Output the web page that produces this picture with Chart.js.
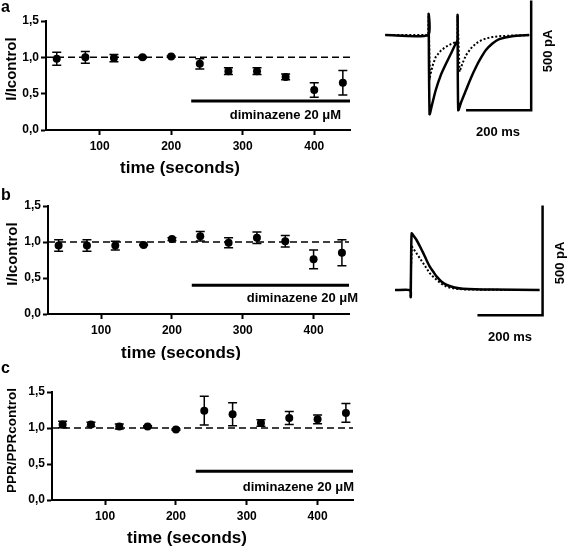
<!DOCTYPE html>
<html>
<head>
<meta charset="utf-8">
<script src="https://cdn.jsdelivr.net/npm/chart.js@4.4.1/dist/chart.umd.min.js"></script>
<style>
  body { margin: 0; background: #fff; width: 567px; height: 547px; position: relative; overflow: hidden; }
  canvas { position: absolute; }
</style>
</head>
<body>
<canvas id="panelA" width="370" height="180" style="left:0;top:0"></canvas>
<canvas id="panelB" width="370" height="180" style="left:0;top:180px"></canvas>
<canvas id="panelC" width="370" height="187" style="left:0;top:360px"></canvas>
<canvas id="traceA" width="197" height="180" style="left:370px;top:0"></canvas>
<canvas id="traceB" width="197" height="155" style="left:370px;top:195px"></canvas>
<script>
// time points (s)
const timeSec = [40, 80, 120, 160, 200, 240, 280, 320, 360, 400, 440];
// panel a: I/Icontrol
const currentA = [0.98, 1.00, 0.99, 1.00, 1.01, 0.91, 0.81, 0.81, 0.73, 0.55, 0.65];
const currentAErr = [0.09, 0.08, 0.05, 0.01, 0.01, 0.07, 0.045, 0.045, 0.04, 0.10, 0.17];
// panel b: I/Icontrol
const currentB = [0.95, 0.95, 0.95, 0.96, 1.04, 1.08, 0.99, 1.06, 1.01, 0.76, 0.85];
const currentBErr = [0.08, 0.08, 0.06, 0.01, 0.02, 0.065, 0.07, 0.08, 0.08, 0.13, 0.18];
// panel c: PPR/PPRcontrol
const pprC = [1.05, 1.05, 1.02, 1.02, 0.98, 1.24, 1.19, 1.07, 1.14, 1.12, 1.21];
const pprCErr = [0.045, 0.03, 0.035, 0.01, 0.01, 0.20, 0.16, 0.045, 0.09, 0.06, 0.13];

const xTicks = [100, 200, 300, 400];
const yTicks = [0, 0.5, 1.0, 1.5];
const xMin = 25, xMax = 450;
const refLevel = 1;
const drugStart = 228, drugEnd = 450, drugLevel = 0.4;
const drugLabel = 'diminazene 20 \u03bcM';

// example traces (ms, pA)
const aCtrlMs = [-133, -1, 0, 3, 10, 22, 38, 54, 70, 84, 88.5, 89, 91, 100, 115, 130, 146, 161, 176, 196, 217, 257, 309];
const aCtrlPa = [0, 0, 96, -360, -320, -250, -180, -128, -80, -36, -27, 91, -342, -305, -250, -195, -144, -103, -68, -38, -18, -5, 0];
const aDrugMs = [-133, -1, 0, 4, 12, 22, 38, 53, 70, 85, 88.5, 89, 95, 105, 115, 130, 146, 161, 176, 196, 217, 257, 309];
const aDrugPa = [0, 0, 90, -191, -140, -99, -70, -53, -40, -30, -27, 88, -167, -125, -91, -60, -37, -24, -15, -9, -5, -2, 0];
const bCtrlMs = [-48, -1, 0, 1, 3, 10, 18, 28, 39, 49, 59, 70, 80, 95, 111, 135, 161, 250, 396];
const bCtrlPa = [0, 0, -32, 100, 258, 245, 228, 200, 167, 135, 106, 82, 61, 38, 23, 12, 6, 2, 0];
const bDrugMs = [-48, -1, 0, 1, 4, 10, 18, 28, 39, 49, 59, 70, 80, 95, 111, 135, 161, 250, 396];
const bDrugPa = [0, 0, -32, 100, 197, 185, 167, 145, 121, 98, 76, 59, 46, 28, 14, 7, 3, 1, 0];
// scale bars: 200 ms, 500 pA
const aBarMs = [115, 315, 315];
const aBarPa = [-342, -342, 158];
const bBarMs = [205, 405, 405];
const bBarPa = [-115, -115, 385];

const FONT = "'Liberation Sans', Arial, Helvetica, sans-serif";

function pts(xs, ys) {
  return xs.map((x, i) => ({ x: x, y: ys[i] }));
}

const panelDecor = {
  id: 'panelDecor',
  afterDatasetsDraw(chart, args, o) {
    const ctx = chart.ctx;
    const sx = chart.scales.x, sy = chart.scales.y;
    ctx.save();
    // error bars
    ctx.strokeStyle = '#000';
    ctx.lineWidth = 1.5;
    o.values.forEach((v, i) => {
      const px = sx.getPixelForValue(timeSec[i]);
      const top = sy.getPixelForValue(v + o.errors[i]);
      const bot = sy.getPixelForValue(v - o.errors[i]);
      ctx.beginPath();
      ctx.moveTo(px, top); ctx.lineTo(px, bot);
      ctx.moveTo(px - 4.5, top); ctx.lineTo(px + 4.5, top);
      ctx.moveTo(px - 4.5, bot); ctx.lineTo(px + 4.5, bot);
      ctx.stroke();
    });
    ctx.fillStyle = '#000';
    // drug label
    ctx.font = 'bold 13px ' + FONT;
    ctx.textAlign = 'right';
    ctx.textBaseline = 'middle';
    ctx.fillText(drugLabel, o.labelPos[0], o.labelPos[1]);
    // axis titles
    ctx.textAlign = 'center';
    ctx.font = 'bold 17px ' + FONT;
    ctx.fillText('time (seconds)', o.xTitlePos[0], o.xTitlePos[1]);
    ctx.save();
    ctx.translate(o.yTitlePos[0], o.yTitlePos[1]);
    ctx.rotate(-Math.PI / 2);
    ctx.font = 'bold ' + o.yTitleSize + 'px ' + FONT;
    ctx.fillText(o.yTitle, 0, 0);
    ctx.restore();
    // panel letter
    ctx.textAlign = 'left';
    ctx.textBaseline = 'alphabetic';
    ctx.font = 'bold 16px ' + FONT;
    ctx.fillText(o.letter, 1, o.letterY);
    ctx.restore();
  }
};

function makePanel(cfg) {
  const canvas = document.getElementById(cfg.id);
  const axisH = canvas.height - cfg.plotBottom;
  new Chart(canvas, {
    type: 'scatter',
    data: {
      datasets: [
        { data: [{ x: xMin, y: refLevel }, { x: xMax, y: refLevel }], showLine: true,
          borderColor: '#000', borderWidth: 1.5, borderDash: [7, 4], pointRadius: 0 },
        { data: [{ x: drugStart, y: drugLevel }, { x: drugEnd, y: drugLevel }], showLine: true,
          borderColor: '#000', borderWidth: 3, pointRadius: 0, clip: false },
        { data: pts(timeSec, cfg.values), pointRadius: 4, pointBackgroundColor: '#000',
          pointBorderColor: '#000', pointBorderWidth: 0, clip: false }
      ]
    },
    options: {
      responsive: false,
      animation: false,
      events: [],
      layout: { padding: { top: cfg.plotTop, right: canvas.width - cfg.plotRight, left: 0, bottom: 0 } },
      plugins: {
        legend: { display: false },
        tooltip: { enabled: false },
        panelDecor: cfg.decor
      },
      scales: {
        x: {
          type: 'linear', min: xMin, max: xMax,
          afterBuildTicks: (s) => { s.ticks = xTicks.map(v => ({ value: v })); },
          afterFit: (s) => { s.height = axisH; },
          border: { display: true, color: '#000', width: 2 },
          grid: { drawOnChartArea: false, drawTicks: true, tickLength: 5, tickWidth: 2, tickColor: '#000' },
          ticks: { color: '#000', padding: 4, font: { family: FONT, size: 12, weight: 'bold' } }
        },
        y: {
          min: 0, max: 1.5,
          afterBuildTicks: (s) => { s.ticks = yTicks.map(v => ({ value: v })); },
          afterFit: (s) => { s.width = cfg.yAxisW; },
          border: { display: true, color: '#000', width: 2 },
          grid: { drawOnChartArea: false, drawTicks: true, tickLength: 5, tickWidth: 2, tickColor: '#000' },
          ticks: { color: '#000', padding: 2, font: { family: FONT, size: 12, weight: 'bold' },
            callback: (v) => v.toFixed(1).replace('.', ',') }
        }
      }
    },
    plugins: [panelDecor]
  });
}

makePanel({ id: 'panelA', values: currentA, yAxisW: 46, plotTop: 21, plotBottom: 130, plotRight: 350,
  decor: { values: currentA, errors: currentAErr, labelPos: [341, 115], xTitlePos: [180, 168],
    yTitle: 'I/Icontrol', yTitleSize: 15, yTitlePos: [12, 69], letter: 'a', letterY: 12 } });
makePanel({ id: 'panelB', values: currentB, yAxisW: 48, plotTop: 26, plotBottom: 134, plotRight: 349,
  decor: { values: currentB, errors: currentBErr, labelPos: [358, 118], xTitlePos: [181, 173],
    yTitle: 'I/Icontrol', yTitleSize: 15, yTitlePos: [13, 74], letter: 'b', letterY: 20 } });
makePanel({ id: 'panelC', values: pprC, yAxisW: 52, plotTop: 32, plotBottom: 140, plotRight: 353,
  decor: { values: pprC, errors: pprCErr, labelPos: [354, 127], xTitlePos: [187, 178],
    yTitle: 'PPR/PPRcontrol', yTitleSize: 13.5, yTitlePos: [12, 80.5], letter: 'c', letterY: 13 } });

const traceLabels = {
  id: 'traceLabels',
  afterDraw(chart, args, o) {
    const ctx = chart.ctx;
    ctx.save();
    ctx.fillStyle = '#000';
    ctx.font = 'bold 13px ' + FONT;
    ctx.textAlign = 'center';
    ctx.textBaseline = 'middle';
    ctx.fillText('200 ms', o.msPos[0], o.msPos[1]);
    ctx.translate(o.paPos[0], o.paPos[1]);
    ctx.rotate(-Math.PI / 2);
    ctx.fillText('500 pA', 0, 0);
    ctx.restore();
  }
};

function makeTrace(cfg) {
  new Chart(document.getElementById(cfg.id), {
    type: 'scatter',
    data: {
      datasets: [
        { data: pts(cfg.drugMs, cfg.drugPa), showLine: true, borderColor: '#000', borderWidth: 2,
          borderDash: [2, 2], pointRadius: 0, clip: false },
        { data: pts(cfg.ctrlMs, cfg.ctrlPa), showLine: true, borderColor: '#000', borderWidth: 2.5,
          pointRadius: 0, clip: false, tension: 0.2 },
        { data: pts(cfg.barMs, cfg.barPa), showLine: true, borderColor: '#000', borderWidth: 2.5,
          pointRadius: 0, clip: false }
      ]
    },
    options: {
      responsive: false,
      animation: false,
      events: [],
      layout: { padding: 0 },
      plugins: { legend: { display: false }, tooltip: { enabled: false }, traceLabels: cfg.labels },
      scales: {
        x: { type: 'linear', display: false, min: cfg.xRange[0], max: cfg.xRange[1] },
        y: { display: false, min: cfg.yRange[0], max: cfg.yRange[1] }
      }
    },
    plugins: [traceLabels]
  });
}

makeTrace({ id: 'traceA', ctrlMs: aCtrlMs, ctrlPa: aCtrlPa, drugMs: aDrugMs, drugPa: aDrugPa,
  barMs: aBarMs, barPa: aBarPa, xRange: [-180, 425], yRange: [-660, 160],
  labels: { msPos: [128, 132], paPos: [178, 51] } });
makeTrace({ id: 'traceB', ctrlMs: bCtrlMs, ctrlPa: bCtrlPa, drugMs: bDrugMs, drugPa: bDrugPa,
  barMs: bBarMs, barPa: bBarPa, xRange: [-125, 480], yRange: [-273, 433],
  labels: { msPos: [140, 142], paPos: [190, 68] } });
</script>
</body>
</html>
